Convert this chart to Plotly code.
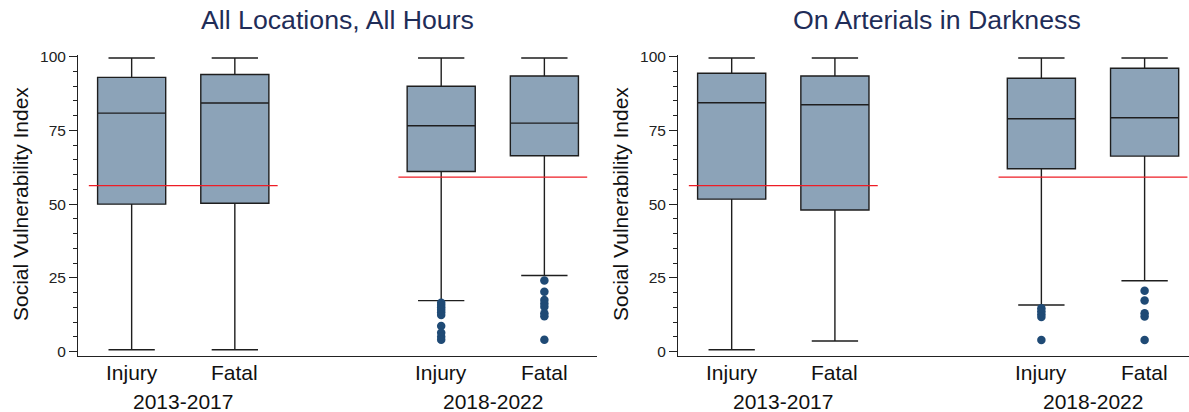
import plotly.graph_objects as go

W, H = 1189, 412

# ---------------- data ----------------
positions = [0, 1, 3, 4]
type_labels = ["Injury", "Fatal", "Injury", "Fatal"]
period_labels = ["2013-2017", "2018-2022"]
period_centers = [0.5, 3.5]
titles = ["All Locations, All Hours", "On Arterials in Darkness"]
y_ticks = [0, 25, 50, 75, 100]

# panel 1: All Locations, All Hours
p1_q1 = [50.0, 50.3, 61.1, 66.4]
p1_median = [80.9, 84.3, 76.6, 77.5]
p1_q3 = [93.0, 94.0, 90.0, 93.5]
p1_low = [0.6, 0.6, 17.3, 25.8]
p1_high = [99.6, 99.6, 99.6, 99.6]
p1_out_injury_1822 = [16.6, 15.8, 15.0, 14.2, 13.3, 12.4, 8.7, 6.4, 5.0, 4.0]
p1_out_fatal_1822 = [24.1, 20.3, 17.5, 16.3, 15.2, 13.0, 12.0, 4.0]

# panel 2: On Arterials in Darkness
p2_q1 = [51.7, 48.0, 62.0, 66.3]
p2_median = [84.4, 83.7, 79.0, 79.3]
p2_q3 = [94.4, 93.5, 92.7, 96.1]
p2_low = [0.6, 3.6, 15.8, 24.0]
p2_high = [99.6, 99.6, 99.6, 99.6]
p2_out_injury_1822 = [14.7, 13.7, 12.7, 11.7, 3.9]
p2_out_fatal_1822 = [20.6, 17.3, 13.0, 11.9, 3.9]

# reference (red) lines per period
ref_values = [56.3, 59.2]

# ---------------- style ----------------
BOX_FILL = "#8CA3B8"
BOX_LINE = "#1E1E1E"
OUT_COL = "#1F4A75"
RED = "#EE1C25"
FONT = "Liberation Sans, Arial, sans-serif"
TITLE_COL = "#1F2D58"

fig = go.Figure()

panels = [
    (p1_q1, p1_median, p1_q3, p1_low, p1_high, p1_out_injury_1822, p1_out_fatal_1822, "x", "y"),
    (p2_q1, p2_median, p2_q3, p2_low, p2_high, p2_out_injury_1822, p2_out_fatal_1822, "x2", "y2"),
]

for q1, med, q3, lo, hi, oi, of, xa, ya in panels:
    fig.add_trace(go.Box(
        x=positions, q1=q1, median=med, q3=q3, lowerfence=lo, upperfence=hi,
        width=0.66, whiskerwidth=0.68, boxpoints=False,
        fillcolor=BOX_FILL, line=dict(color=BOX_LINE, width=1.4),
        xaxis=xa, yaxis=ya, showlegend=False, hoverinfo="skip",
    ))
    fig.add_trace(go.Scatter(
        x=[positions[2]] * len(oi) + [positions[3]] * len(of), y=oi + of,
        mode="markers", marker=dict(color=OUT_COL, size=8.5),
        xaxis=xa, yaxis=ya, showlegend=False, hoverinfo="skip",
    ))
    for c, v in zip(period_centers, ref_values):
        fig.add_shape(type="line", xref=xa, yref=ya, x0=c - 0.915, x1=c + 0.915,
                      y0=v, y1=v, line=dict(color=RED, width=1.3))

y_dom = [(H - 356) / H, (H - 55) / H]
x1_dom = [78 / W, 597 / W]
x2_dom = [678 / W, 1.0]

common_x = dict(
    tickmode="array", tickvals=positions, showticklabels=False,
    ticks="", showline=True, linecolor="#222", linewidth=1,
    showgrid=False, zeroline=False, automargin=False,
)
fig.update_layout(
    xaxis=dict(domain=x1_dom, range=[-0.52, 4.51], anchor="y", **common_x),
    xaxis2=dict(domain=x2_dom, range=[-0.52, 4.43], anchor="y2", **common_x),
)
common_y = dict(
    range=[-1.5, 100.6], tickvals=y_ticks,
    ticks="outside", ticklen=8, tickwidth=1, tickcolor="#222",
    showline=True, linecolor="#222", linewidth=1,
    showgrid=False, zeroline=False, automargin=False,
    tickfont=dict(family=FONT, size=15.5, color="#222"),
    minor=dict(dtick=5, tick0=0, ticks="outside", ticklen=4, tickcolor="#222", tickwidth=1),
)
fig.update_layout(
    yaxis=dict(domain=y_dom, anchor="x", **common_y),
    yaxis2=dict(domain=y_dom, anchor="x2", **common_y),
)

annotations = []
for dom, title in zip([x1_dom, x2_dom], titles):
    annotations.append(dict(
        text=title, xref="paper", yref="paper",
        x=(dom[0] + (dom[0] + 519 / W)) / 2, y=(H - 20) / H,
        showarrow=False, xanchor="center", yanchor="middle",
        font=dict(family=FONT, size=26.7, color=TITLE_COL),
    ))
    annotations.append(dict(
        text="Social Vulnerability Index", xref="paper", yref="paper",
        x=(dom[0] * W - 58) / W, y=(H - 204) / H, textangle=-90,
        showarrow=False, xanchor="center", yanchor="middle",
        font=dict(family=FONT, size=21, color="#111"),
    ))
for xa in ["x", "x2"]:
    for p, lab in zip(positions, type_labels):
        annotations.append(dict(
            text=lab, xref=xa, yref="paper", x=p, y=(H - 372) / H,
            showarrow=False, xanchor="center", yanchor="middle",
            font=dict(family=FONT, size=21, color="#111"),
        ))
    for c, lab in zip(period_centers, period_labels):
        annotations.append(dict(
            text=lab, xref=xa, yref="paper", x=c, y=(H - 401) / H,
            showarrow=False, xanchor="center", yanchor="middle",
            font=dict(family=FONT, size=21, color="#111"),
        ))

fig.update_layout(
    width=W, height=H, margin=dict(l=0, r=0, t=0, b=0),
    paper_bgcolor="white", plot_bgcolor="white",
    annotations=annotations,
)

fig.write_html(
    "out.html",
    config={"displayModeBar": False, "staticPlot": True},
    post_script="document.body.style.margin='0';document.body.style.overflow='hidden';",
)
